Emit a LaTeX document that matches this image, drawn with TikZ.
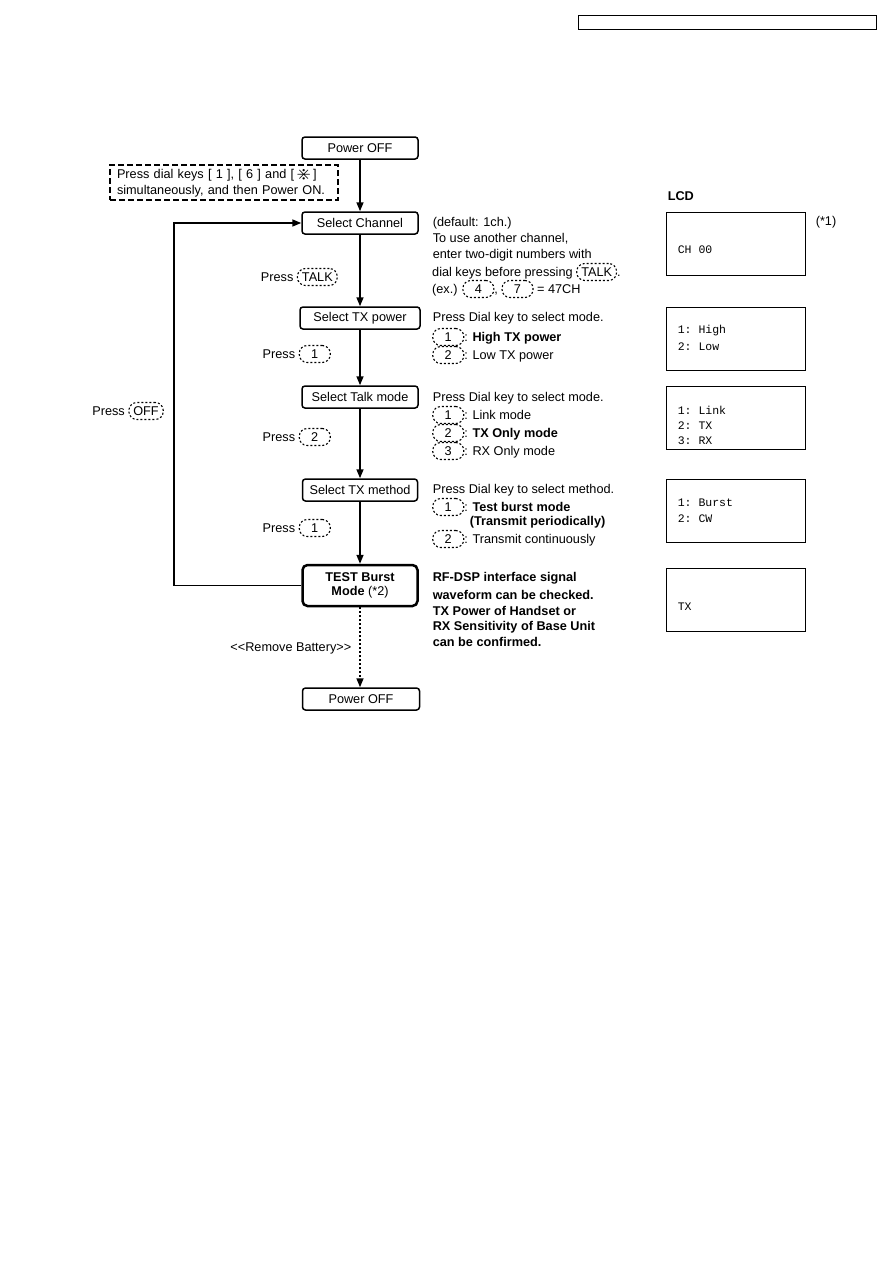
\documentclass[tikz,border=0pt]{standalone}
\usepackage{amssymb}
\usepackage{fontspec}
\setmainfont{Liberation Sans}
\setmonofont{Liberation Mono}
\usetikzlibrary{arrows.meta, positioning}

% dashed key cap inside a line of text
\newcommand{\dialkey}[1]{\tikz[baseline=(dk.base)]\node[keycap] (dk) {#1};}
\tikzset{
  keycap/.style={draw, dash pattern=on 2pt off 2pt, line width=1.1pt, rounded corners=8pt,
    inner xsep=4.5pt, inner ysep=2.5pt, minimum width=31pt, minimum height=17pt}
}

\begin{document}
\begin{tikzpicture}[
  x=1pt, y=-1pt,
  font=\fontsize{12.7}{15}\selectfont,
  stepbox/.style={rectangle, draw, rounded corners=3pt, line width=1.5pt, minimum width=116pt, minimum height=22pt, inner sep=2pt},
  notebox/.style={rectangle, draw, dash pattern=on 6pt off 3pt, line width=1.8pt, align=left, text width=214pt, minimum height=35pt, inner xsep=7pt, inner ysep=2pt},
  lcd/.style={rectangle, draw, line width=1pt, minimum width=139pt, minimum height=63pt, anchor=north west, inner sep=0pt},
  lcdtxt/.style={anchor=west, inner sep=0pt, font=\ttfamily\fontsize{11.5}{13}\selectfont},
  txt/.style={anchor=west, inner sep=0pt},
  btxt/.style={anchor=west, inner sep=0pt, font=\fontsize{12.7}{15}\selectfont\bfseries},
  >={Triangle[length=9pt, width=7pt]},
  line width=1.6pt
]
  \useasboundingbox (0,0) rectangle (893,1263);

  % header frame
  \draw[line width=1pt] (578,16) rectangle (876,30);

  % main flow
  \node[stepbox] (pwroff) at (360,148) {Power OFF};
  \node[notebox] (note) at (224,182.5) {Press dial keys [ 1 ], [ 6 ] and [\,\raisebox{-1pt}{\scalebox{1.5}{$\divideontimes$}}\,]\\[1pt]simultaneously, and then Power ON.};
  \node[stepbox] (selch) at (360,223) {Select Channel};
  \node[stepbox, minimum width=120pt] (seltxp) at (360,318) {Select TX power};
  \node[stepbox] (seltalk) at (360,397) {Select Talk mode};
  \node[stepbox, minimum width=115pt] (selmeth) at (360,490) {Select TX method};
  \node[stepbox, minimum width=115pt, minimum height=41pt, line width=2.5pt, align=center, rounded corners=5pt]
    (burst) at (360,585.5) {\textbf{TEST Burst}\\[-1pt]\textbf{Mode} (*2)};
  \node[stepbox, minimum width=117pt] (pwroff2) at (361,699) {Power OFF};

  \draw[->] (pwroff) -- (selch);
  \draw[->] (selch) -- (seltxp);
  \draw[->] (seltxp) -- (seltalk);
  \draw[->] (seltalk) -- (selmeth);
  \draw[->] (selmeth) -- (burst);
  \draw[->, dash pattern=on 2pt off 2pt] (burst.south) -- (burst.south |- pwroff2.north);
  \draw[->] (burst.west) -- ++(-127,0) |- (selch.west);

  % key presses on the arrows
  \node[txt, anchor=east] (prtalk) at (338,277) {Press \dialkey{TALK}};
  \node[txt, anchor=east] (pr1) at (331,354) {Press \dialkey{1}};
  \node[txt, anchor=east] (pr2) at (331,437) {Press \dialkey{2}};
  \node[txt, anchor=east] (pr1b) at (331,528) {Press \dialkey{1}};
  \node[txt, anchor=east] (proff) at (164,411) {Press \dialkey{OFF}};
  \node[txt, anchor=east] (rmbat) at (352,648) {\textless\kern0pt\textless Remove Battery\textgreater\kern0pt\textgreater};

  % notes on the right
  \node[txt] (chA) at (432,223) {(default: 1ch.)};
  \node[txt] (chB) at (432,239) {To use another channel,};
  \node[txt] (chC) at (432,255) {enter two-digit numbers with};
  \node[txt] (chD) at (432,272) {dial keys before pressing \dialkey{TALK}.};
  \node[txt] (chE) at (432,289) {(ex.) \dialkey{4}, \dialkey{7} = 47CH};

  \node[txt] (txpA) at (432,318) {Press Dial key to select mode.};
  \node[txt] (txpB) at (432,337) {\dialkey{1}: \textbf{High TX power}};
  \node[txt] (txpC) at (432,355) {\dialkey{2}: Low TX power};

  \node[txt] (tlkA) at (432,398) {Press Dial key to select mode.};
  \node[txt] (tlkB) at (432,415) {\dialkey{1}: Link mode};
  \node[txt] (tlkC) at (432,433) {\dialkey{2}: \textbf{TX Only mode}};
  \node[txt] (tlkD) at (432,451) {\dialkey{3}: RX Only mode};

  \node[txt] (mthA) at (432,490) {Press Dial key to select method.};
  \node[txt] (mthB) at (432,507) {\dialkey{1}: \textbf{Test burst mode}};
  \node[btxt] (mthC) at (469,522) {(Transmit periodically)};
  \node[txt] (mthD) at (432,539) {\dialkey{2}: Transmit continuously};

  \node[btxt] (brA) at (432,578) {RF-DSP interface signal};
  \node[btxt] (brB) at (432,595) {waveform can be checked.};
  \node[btxt] (brC) at (432,611) {TX Power of Handset or};
  \node[btxt] (brD) at (432,627) {RX Sensitivity of Base Unit};
  \node[btxt] (brE) at (432,642) {can be confirmed.};

  % LCD column
  \node[btxt] (lcdhd) at (667,196) {LCD};
  \node[txt] (star1) at (815,222) {(*1)};
  \node[lcd] (lcd1) at (666,212) {};
  \node[lcdtxt] (lcd1a) at (677,250) {CH 00};
  \node[lcd] (lcd2) at (666,307) {};
  \node[lcdtxt] (lcd2a) at (677,331) {1: High};
  \node[lcdtxt] (lcd2b) at (677,347) {2: Low};
  \node[lcd] (lcd3) at (666,386) {};
  \node[lcdtxt] (lcd3a) at (677,410) {1: Link};
  \node[lcdtxt] (lcd3b) at (677,426) {2: TX};
  \node[lcdtxt] (lcd3c) at (677,441) {3: RX};
  \node[lcd] (lcd4) at (666,479) {};
  \node[lcdtxt] (lcd4a) at (677,503) {1: Burst};
  \node[lcdtxt] (lcd4b) at (677,519) {2: CW};
  \node[lcd] (lcd5) at (666,568) {};
  \node[lcdtxt] (lcd5a) at (677,607) {TX};
\end{tikzpicture}
\end{document}
